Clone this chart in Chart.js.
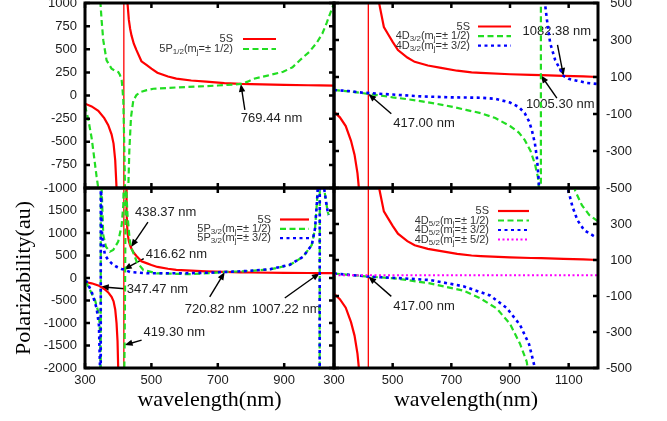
<!DOCTYPE html>
<html lang="en">
<head>
<meta charset="UTF-8" />
<title>Polarizability vs wavelength</title>
<style>
  body { margin: 0; background: #fff; }
  .wrap { position: relative; width: 667px; height: 421px; background: #fff; overflow: hidden; }
  .wrap canvas { position: absolute; left: 0; top: 0; }
</style>
</head>
<body>
<div class="wrap">
  <canvas id="tl" width="667" height="421"></canvas>
  <canvas id="tr" width="667" height="421"></canvas>
  <canvas id="bl" width="667" height="421"></canvas>
  <canvas id="br" width="667" height="421"></canvas>
</div>
<script src="https://cdn.jsdelivr.net/npm/chart.js"></script>
<script>
// tick values
const xTicksLeft = [300, 500, 700, 900];
const xTicksRight = [300, 500, 700, 900, 1100];
const yTicksTL = [-1000, -750, -500, -250, 0, 250, 500, 750, 1000];
const yTicksBL = [-2000, -1500, -1000, -500, 0, 500, 1000, 1500];
const yTicksTR = [-500, -300, -100, 100, 300, 500];
const yTicksBR = [-500, -300, -100, 100, 300];

// polarizability (au) against wavelength (nm)
const alpha5S = [
  [300, -88], [320, -118], [340, -165], [358, -245], [370, -320], [380, -420],
  [386, -520], [391, -700], [395, -1000], [398, -1400], [400, -2000], [402, -3500], [404, -8000],
  [410, null],
  [422.5, 8000], [423.5, 3500], [424.5, 2000], [426, 1450], [428, 1000], [432, 820],
  [436, 720], [440, 650], [447, 560], [455, 490], [470, 370], [485, 330], [500, 290],
  [518, 246], [550, 205], [575, 182], [620, 162], [665, 149], [720, 134], [769, 125],
  [800, 122], [900, 115], [972, 111], [1007, 110], [1082, 106], [1150, 103], [1200, 100]
];
const pole5S = [[417, -100000], [417, 100000]];

const alpha5P12 = [
  [300, -110], [310, -260], [320, -460], [328, -680], [335, -880], [340, -1000], [343, -1500], [344.5, -4000],
  [344.8, null],
  [345, 4000], [345.5, 3000], [346.5, 1000], [350, 815], [355, 598], [365, 380], [380, 290], [392, 265],
  [400, 254], [405, 225], [410.5, 163], [413, 70], [415.4, -54], [417.5, -414], [419, -700], [420.5, -1000],
  [422, -1600], [423, -3000],
  [424, null],
  [428, -3000], [429.5, -1500], [430.5, -1000], [433.5, -598], [438.5, -236], [445.5, -54], [455, 5],
  [466, 36], [486, 58], [506, 73], [580, 88], [646, 98], [700, 108], [747, 118], [769, 125], [790, 150],
  [807, 180], [850, 215], [897, 257], [925, 305], [948, 384], [975, 470], [998, 570], [1015, 670],
  [1028, 786], [1043, 930], [1050, 1000]
];

const alpha5P32a = [
  [300, -95], [305, -118], [315, -267], [330, -489], [340, -749], [344, -1000], [346, -1500], [347.2, -6000],
  [347.8, 6000], [348.6, 2600], [350.3, 1956], [355, 956], [363, 696], [375, 584], [385, 622], [400, 807],
  [410.5, 1178], [415.4, 1622], [417, 2300], [417.4, 6000],
  [417.5, null],
  [417.7, -6000], [418.4, -2000], [419.3, -1490], [420.3, -600], [421.3, 500], [422.3, 1800], [423, 2600],
  [424, 2200], [425.5, 1800], [428, 1400], [431.5, 1100], [434, 900], [438, 690], [445.5, 560], [455.7, 362],
  [475.6, 178], [516, 104], [616, 85], [680, 110], [720, 134], [760, 145], [797, 158], [857, 190],
  [917, 289], [957, 473], [983, 733], [993, 1104], [998, 1622], [1001, 1956], [1003, 4000],
  [1004, null],
  [1006.5, -6000], [1007.5, 6000],
  [1008, null],
  [1019, 4000], [1021, 1956], [1026, 1700], [1031, 1473], [1034, 1400]
];
const alpha5P32b = [
  [300, -70], [305, -82], [320, -304], [335, -673], [342, -1044], [345, -1933], [347.2, -6000],
  [347.8, 6000], [348.6, 2000], [350, 1200], [352, 900], [360, 511], [370, 400], [380, 327], [395, 250],
  [410.5, 200], [417, 187], [435.5, 135], [486, 104], [560, 104], [616, 108], [680, 120], [720, 134],
  [760, 146], [797, 160], [857, 195], [917, 295], [957, 473], [983, 733], [993, 1104], [998, 1622],
  [1001, 1956], [1003, 4000],
  [1004, null],
  [1006.5, -6000], [1007.5, 6000],
  [1008, null],
  [1019, 4000], [1021, 1956], [1026, 1700], [1031, 1473], [1034, 1400]
];

const alpha4D32a = [
  [300, 30], [350, 22], [400, 12], [450, 2], [500, -10], [550, -20], [600, -32], [650, -45], [700, -60],
  [750, -78], [800, -95], [850, -122], [900, -165], [930, -200], [950, -240], [970, -300], [985, -370],
  [995, -440], [1000, -520], [1003, -750], [1004.8, -9000],
  [1005.8, 9000], [1010, 5000], [1050, 1500], [1100, 900], [1150, 650], [1200, 490]
];
const alpha4D32b = [
  [300, 30], [350, 24], [400, 15], [450, 10], [500, 5], [600, -5], [700, -10], [800, -12], [850, -18],
  [900, -38], [930, -62], [950, -95], [965, -140], [975, -190], [985, -260], [992, -340], [998, -460],
  [1001, -600], [1004, -1200],
  [1006, null],
  [1014, 1500], [1019, 500], [1026, 408], [1037, 283], [1054, 192], [1071, 140], [1082, 106], [1100, 90],
  [1128, 80], [1163, 68], [1200, 62]
];

const alpha4D52a = [
  [300, 25], [417, 8], [514, -3], [627, -30], [741, -70], [798, -112], [855, -170], [900, -255],
  [934, -365], [957, -465], [962, -520], [968, -800], [973, -2000], [976, -8000],
  [980, null],
  [1105, 1200], [1115, 650], [1122, 485], [1145, 405], [1170, 350], [1200, 315]
];
const alpha4D52b = [
  [300, 25], [417, 8], [514, 0], [627, -11], [741, -46], [832, -97], [889, -167], [934, -260],
  [965, -368], [982, -480], [988, -560], [993, -900], [997, -2500], [999, -8000],
  [1000, null],
  [1085, 1500], [1094, 700], [1099, 485], [1113, 396], [1130, 321], [1153, 265], [1187, 232], [1200, 228]
];
const alpha4D52c = [[300, 15], [600, 15], [900, 15], [1200, 15]];

// line styles
const RED = { color: '#ff0000', width: 2.2, dash: [], order: 3 };
const GREEN = { color: '#22dd22', width: 2.2, dash: [6, 3.5], order: 2 };
const BLUE = { color: '#0000ff', width: 2.6, dash: [3, 3.5], order: 1 };
const MAGENTA = { color: '#ff00ff', width: 2, dash: [2, 2.5], order: 0 };

const W = 667, H = 421;
const sansFont = 'Arial, "Liberation Sans", Helvetica, sans-serif';
const serifFont = '"Times New Roman", "Liberation Serif", serif';
Chart.defaults.font.family = sansFont;

function line(data, style, label) {
  return Object.assign({ data, label, key: !!label }, style);
}
function poleLine() {
  return { data: pole5S, color: '#ff0000', width: 1.3, dash: [], order: 3, key: false };
}

const panels = {
  tl: {
    box: [85, 3, 334, 188], xr: [300, 1050], yr: [-1000, 1000], xt: xTicksLeft, yt: yTicksTL,
    side: 'left', bottom: false, yTitle: false,
    sets: [line(alpha5S, RED, '5S'), line(alpha5P12, GREEN, '5P_{1/2}(m_{j}=\u00b1 1/2)'), poleLine()],
    key: { right: 233, x0: 243, x1: 276, top: 39, step: 10 },
    notes: [{ text: '769.44 nm', at: [769.44, 125], tail: [4, 26], label: [0, 34] }]
  },
  tr: {
    box: [334, 3, 598, 188], xr: [300, 1200], yr: [-500, 500], xt: xTicksRight, yt: yTicksTR,
    side: 'right', bottom: false, yTitle: false,
    sets: [line(alpha5S, RED, '5S'), line(alpha4D32a, GREEN, '4D_{3/2}(m_{j}=\u00b1 1/2)'),
           line(alpha4D32b, BLUE, '4D_{3/2}(m_{j}=\u00b1 3/2)'), poleLine()],
    key: { right: 470, x0: 478, x1: 511, top: 26.5, step: 9.6 },
    notes: [
      { text: '1082.38 nm', at: [1082.38, 106], tail: [-6, -31], label: [-41, -44] },
      { text: '1005.30 nm', at: [1005.3, 110], tail: [16, 23], label: [-15, 29] },
      { text: '417.00 nm', at: [417, 9], tail: [23, 20], label: [25, 30] }
    ]
  },
  bl: {
    box: [85, 188, 334, 368], xr: [300, 1050], yr: [-2000, 2000], xt: xTicksLeft, yt: yTicksBL,
    side: 'left', bottom: true, yTitle: true,
    sets: [line(alpha5S, RED, '5S'), line(alpha5P32a, GREEN, '5P_{3/2}(m_{j}=\u00b1 1/2)'),
           line(alpha5P32b, BLUE, '5P_{3/2}(m_{j}=\u00b1 3/2)'), poleLine()],
    key: { right: 271, x0: 280, x1: 309, top: 219.5, step: 9.3 },
    notes: [
      { text: '438.37 nm', at: [438.37, 685], tail: [17, -25], label: [4, -35] },
      { text: '416.62 nm', at: [416.62, 187], tail: [20, -11], label: [22, -15] },
      { text: '347.47 nm', at: [347.47, -196], tail: [24, 2], label: [26, 3] },
      { text: '720.82 nm', at: [720.82, 134], tail: [-15, 25], label: [-40, 37] },
      { text: '1007.22 nm', at: [1007.22, 110], tail: [-35, 25], label: [-68, 36] },
      { text: '419.30 nm', at: [419.3, -1490], tail: [17, -5], label: [19, -13] }
    ]
  },
  br: {
    box: [334, 188, 598, 368], xr: [300, 1200], yr: [-500, 500], xt: xTicksRight, yt: yTicksBR,
    side: 'right', bottom: true, yTitle: false,
    sets: [line(alpha5S, RED, '5S'), line(alpha4D52a, GREEN, '4D_{5/2}(m_{j}=\u00b1 1/2)'),
           line(alpha4D52b, BLUE, '4D_{5/2}(m_{j}=\u00b1 3/2)'), line(alpha4D52c, MAGENTA, '4D_{5/2}(m_{j}=\u00b1 5/2)'),
           poleLine()],
    key: { right: 489, x0: 498, x1: 529, top: 211, step: 9.5 },
    notes: [{ text: '417.00 nm', at: [417, 9], tail: [23, 20], label: [25, 30] }]
  }
};

// split "4D_{5/2}(m_{j}=..)" into plain / subscript pieces
function richParts(str) {
  const parts = [];
  let i = 0;
  while (i < str.length) {
    const k = str.indexOf('_{', i);
    if (k < 0) { parts.push([str.slice(i), false]); break; }
    if (k > i) parts.push([str.slice(i, k), false]);
    const e = str.indexOf('}', k);
    parts.push([str.slice(k + 2, e), true]);
    i = e + 1;
  }
  return parts;
}

function arrow(ctx, x0, y0, x1, y1) {
  const a = Math.atan2(y1 - y0, x1 - x0), L = 8, hw = 3.2;
  const c = Math.cos(a), s = Math.sin(a);
  ctx.beginPath();
  ctx.moveTo(x0, y0);
  ctx.lineTo(x1 - c * L * 0.7, y1 - s * L * 0.7);
  ctx.stroke();
  ctx.beginPath();
  ctx.moveTo(x1, y1);
  ctx.lineTo(x1 - L * c + hw * s, y1 - L * s - hw * c);
  ctx.lineTo(x1 - L * c - hw * s, y1 - L * s + hw * c);
  ctx.closePath();
  ctx.fill();
}

// labels with arrows, drawn under the curves
const notesPlugin = {
  id: 'notes',
  beforeDatasetsDraw(chart) {
    const p = panels[chart.canvas.id];
    const { ctx, scales: { x, y } } = chart;
    ctx.save();
    ctx.font = '13px ' + sansFont;
    ctx.fillStyle = '#222';
    ctx.strokeStyle = '#000';
    ctx.lineWidth = 1.4;
    ctx.textBaseline = 'middle';
    p.notes.forEach(n => {
      const px = x.getPixelForValue(n.at[0]), py = y.getPixelForValue(n.at[1]);
      ctx.fillText(n.text, px + n.label[0], py + n.label[1]);
      ctx.fillStyle = '#000';
      arrow(ctx, px + n.tail[0], py + n.tail[1], px, py);
      ctx.fillStyle = '#222';
    });
    ctx.restore();
  }
};

// thick border with inward ticks on all four sides
const framePlugin = {
  id: 'frame',
  afterDatasetsDraw(chart) {
    const p = panels[chart.canvas.id];
    const { ctx, chartArea: a, scales: { x, y } } = chart;
    ctx.save();
    ctx.strokeStyle = '#000';
    ctx.lineWidth = 2.5;
    const len = 5;
    ctx.beginPath();
    p.xt.forEach(v => {
      const px = x.getPixelForValue(v);
      ctx.moveTo(px, a.bottom); ctx.lineTo(px, a.bottom - len);
      ctx.moveTo(px, a.top); ctx.lineTo(px, a.top + len);
    });
    p.yt.forEach(v => {
      const py = y.getPixelForValue(v);
      ctx.moveTo(a.left, py); ctx.lineTo(a.left + len, py);
      ctx.moveTo(a.right, py); ctx.lineTo(a.right - len, py);
    });
    ctx.stroke();
    ctx.lineWidth = 3;
    ctx.strokeRect(a.left, a.top, a.right - a.left, a.bottom - a.top);
    ctx.restore();
  }
};

// gnuplot-style key: right-aligned text, sample line after it
const keyPlugin = {
  id: 'key',
  afterDatasetsDraw(chart) {
    const k = panels[chart.canvas.id].key;
    const ctx = chart.ctx;
    const mainFont = '11px ' + sansFont, subFont = '8px ' + sansFont;
    ctx.save();
    ctx.textBaseline = 'middle';
    let row = 0;
    chart.data.datasets.forEach(ds => {
      if (!ds.key) return;
      const yy = k.top + row * k.step;
      const parts = richParts(ds.label);
      let w = 0;
      parts.forEach(([t, sub]) => { ctx.font = sub ? subFont : mainFont; w += ctx.measureText(t).width; });
      let xx = k.right - w;
      ctx.fillStyle = '#333';
      parts.forEach(([t, sub]) => {
        ctx.font = sub ? subFont : mainFont;
        ctx.fillText(t, xx, sub ? yy + 3 : yy);
        xx += ctx.measureText(t).width;
      });
      ctx.strokeStyle = ds.borderColor;
      ctx.lineWidth = Math.min(ds.borderWidth, 2.2);
      ctx.setLineDash(ds.borderDash || []);
      ctx.beginPath();
      ctx.moveTo(k.x0, yy);
      ctx.lineTo(k.x1, yy);
      ctx.stroke();
      ctx.setLineDash([]);
      row++;
    });
    ctx.restore();
  }
};

function makeChart(id) {
  const p = panels[id];
  const [L, T, R, B] = p.box;
  const left = p.side === 'left';
  const yAxisWidth = left ? L : 34;
  new Chart(document.getElementById(id), {
    type: 'line',
    data: {
      datasets: p.sets.map(s => ({
        label: s.label || '',
        key: s.key,
        data: s.data,
        borderColor: s.color,
        borderWidth: s.width,
        borderDash: s.dash,
        order: s.order,
        pointRadius: 0,
        fill: false,
        tension: 0,
        spanGaps: false
      }))
    },
    options: {
      responsive: false,
      animation: false,
      devicePixelRatio: 1,
      layout: { padding: { left: left ? 0 : L, right: left ? W - R : W - R - yAxisWidth, top: T, bottom: 0 } },
      plugins: { legend: { display: false }, tooltip: { enabled: false } },
      scales: {
        x: {
          type: 'linear', min: p.xr[0], max: p.xr[1], position: 'bottom',
          grid: { display: false, drawTicks: false }, border: { display: false },
          ticks: { display: p.bottom, padding: 5, color: '#1a1a1a', font: { size: 13 }, maxRotation: 0, autoSkip: false, callback: v => v },
          title: { display: p.bottom, text: 'wavelength(nm)', color: '#000', font: { family: serifFont, size: 22 }, padding: { top: 0, bottom: 8 } },
          afterBuildTicks: s => { s.ticks = p.xt.map(v => ({ value: v })); },
          afterFit: s => { s.height = H - B; s.paddingLeft = 0; s.paddingRight = 0; }
        },
        y: {
          type: 'linear', min: p.yr[0], max: p.yr[1], position: p.side,
          grid: { display: false, drawTicks: false }, border: { display: false },
          ticks: { padding: 8, color: '#1a1a1a', font: { size: 13 }, autoSkip: false, crossAlign: left ? 'near' : 'far', callback: v => v },
          title: { display: p.yTitle, text: 'Polarizability(au)', color: '#000', font: { family: serifFont, size: 22 }, padding: { top: 11, bottom: 0 } },
          afterBuildTicks: s => { s.ticks = p.yt.map(v => ({ value: v })); },
          afterFit: s => { s.width = yAxisWidth; s.paddingTop = 0; s.paddingBottom = 0; }
        }
      }
    },
    plugins: [notesPlugin, framePlugin, keyPlugin]
  });
}

['tl', 'tr', 'bl', 'br'].forEach(makeChart);
</script>
</body>
</html>
